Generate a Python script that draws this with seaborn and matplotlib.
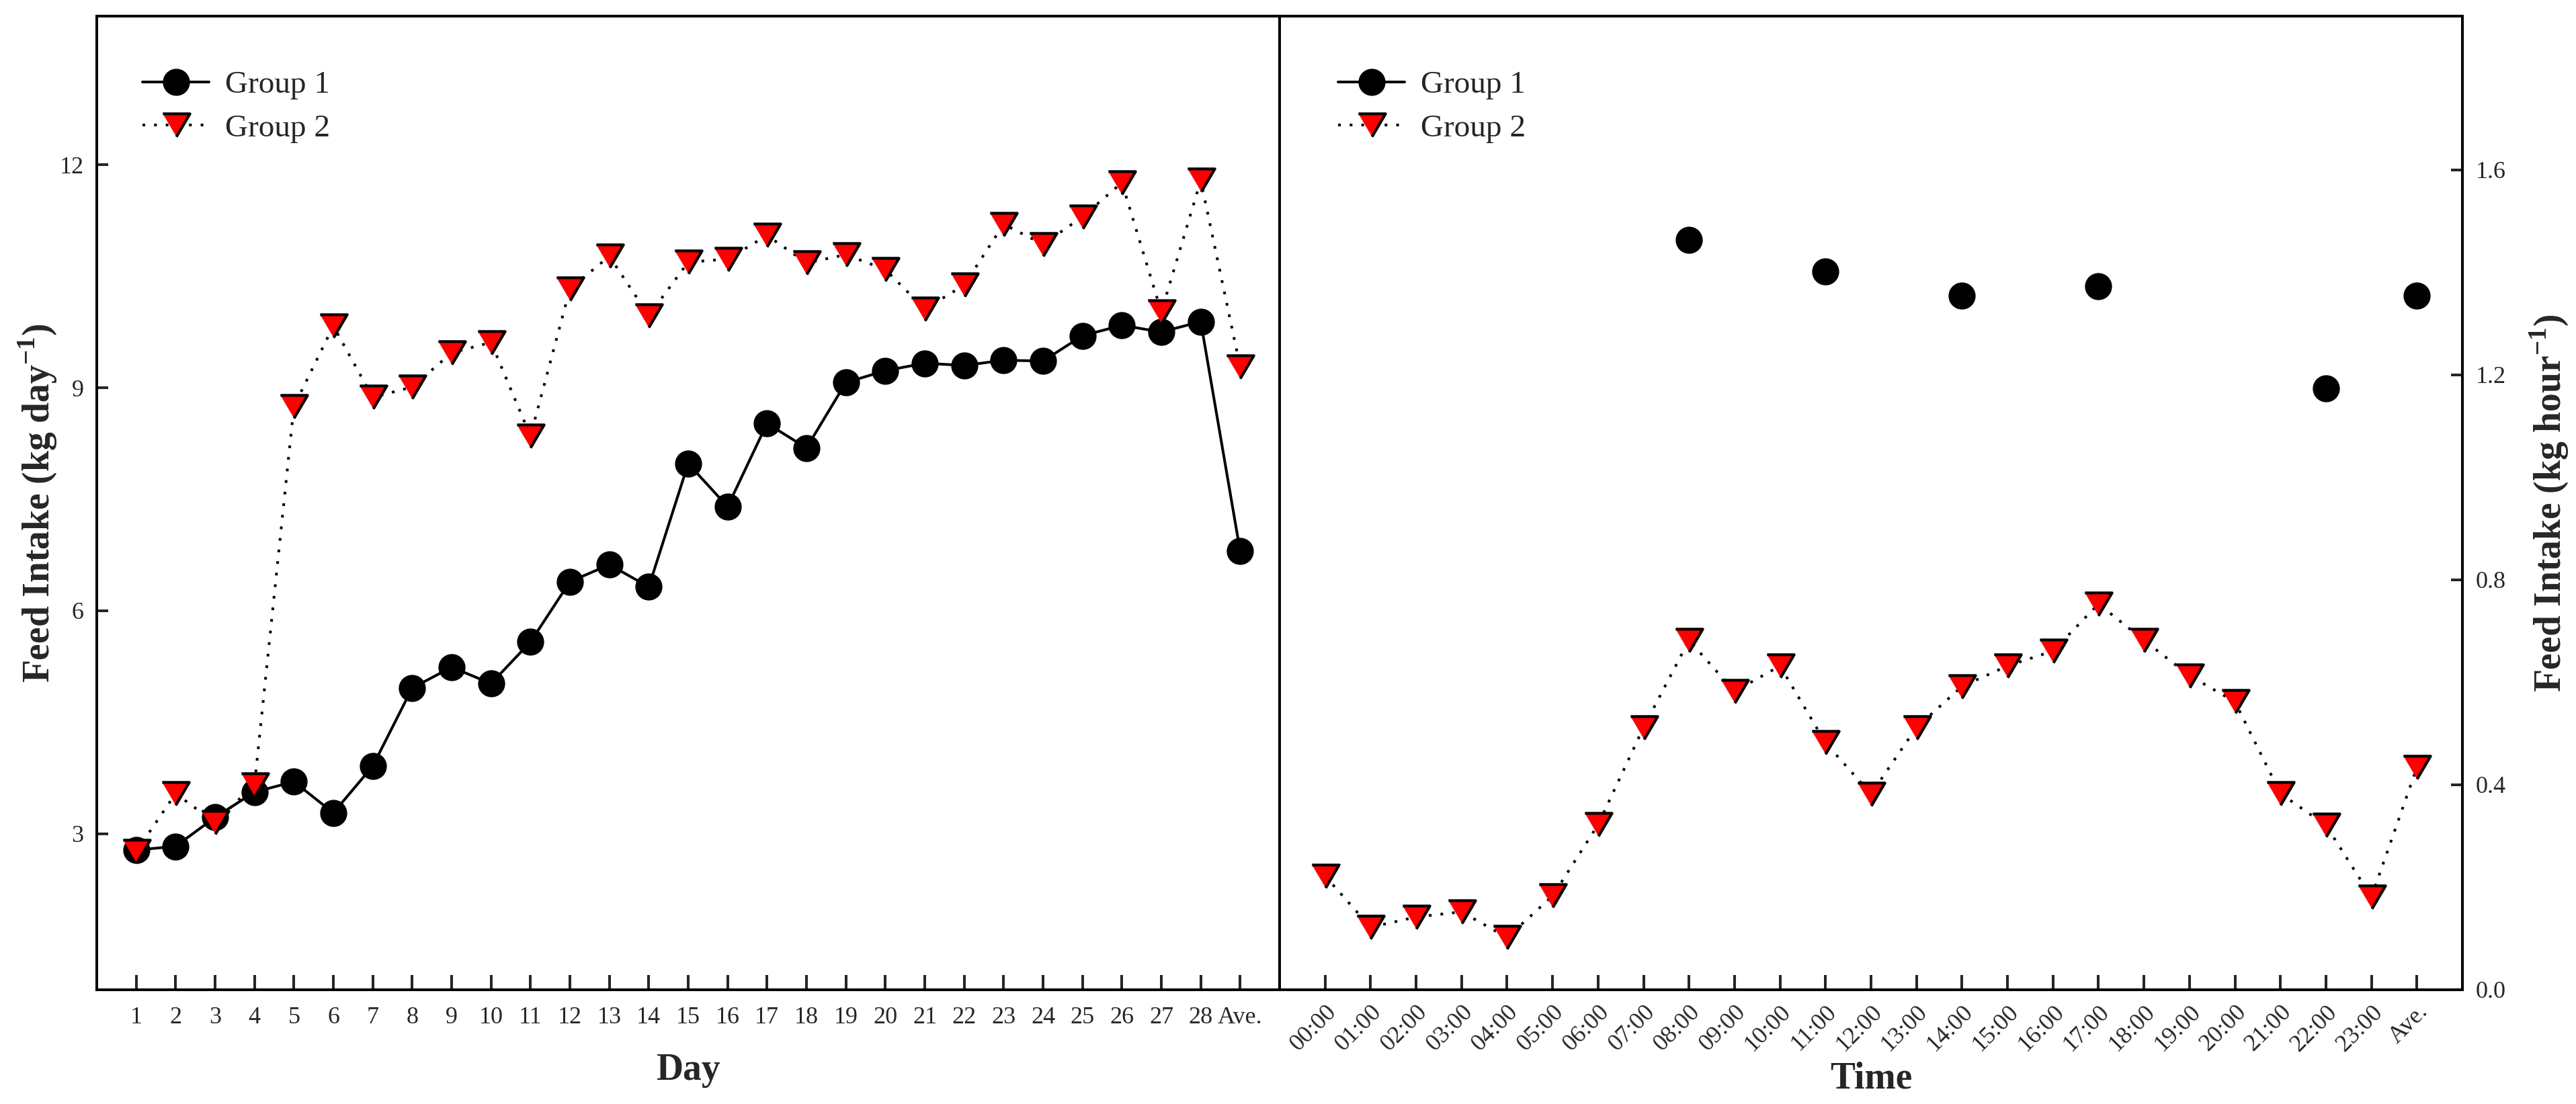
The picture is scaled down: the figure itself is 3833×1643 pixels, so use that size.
import numpy as np
import matplotlib
matplotlib.use("Agg")
import matplotlib.pyplot as plt
import seaborn as sns

# ---- data ----
day_labels = [str(i) for i in range(1, 29)] + ["Ave."]
day_pos = list(range(1, 30))
group1_day = [2.78, 2.83, 3.22, 3.56, 3.70, 3.28, 3.91, 4.96, 5.24, 5.02,
              5.58, 6.39, 6.62, 6.32, 7.98, 7.40, 8.52, 8.19, 9.07, 9.23,
              9.33, 9.30, 9.37, 9.36, 9.70, 9.84, 9.75, 9.89, 6.80]
group2_day = [2.76, 3.54, 3.15, 3.66, 8.75, 9.83, 8.87, 9.01, 9.47, 9.61,
              8.35, 10.33, 10.77, 9.97, 10.69, 10.73, 11.05, 10.68, 10.79, 10.59,
              10.06, 10.38, 11.20, 10.93, 11.30, 11.76, 10.02, 11.79, 9.28]

hour_labels = ["%02d:00" % h for h in range(24)] + ["Ave."]
hour_pos = list(range(25))
nan = np.nan
group1_hour = [nan, nan, nan, nan, nan, nan, nan, nan, 1.463, nan,
               nan, 1.402, nan, nan, 1.354, nan, nan, 1.373, nan, nan,
               nan, nan, 1.174, nan, 1.354]
group2_hour = [0.222, 0.122, 0.142, 0.152, 0.102, 0.183, 0.322, 0.512, 0.682, 0.582,
               0.632, 0.482, 0.382, 0.512, 0.592, 0.632, 0.661, 0.753, 0.682, 0.613,
               0.562, 0.383, 0.321, 0.181, 0.434]

sns.set_style("ticks")
plt.rcParams["font.family"] = ["Liberation Serif", "DejaVu Serif"]
plt.rcParams["mathtext.fontset"] = "custom"
plt.rcParams["mathtext.rm"] = "Liberation Serif"
plt.rcParams["mathtext.bf"] = "Liberation Serif:bold"

fig = plt.figure(figsize=(38.33, 16.43), dpi=100)
ax1 = fig.add_axes([0.03757, 0.10347, 0.45917, 0.88192])
ax2 = fig.add_axes([0.49674, 0.10347, 0.45917, 0.88192])

tri = [(-1, 0.85), (1, 0.85), (0, -0.85)]
g1 = dict(color="black", marker="o", markersize=28, markeredgewidth=1,
          markerfacecolor="black", markeredgecolor="black",
          linewidth=2.9, linestyle="-")
g2 = dict(color="black", marker=tri, markersize=29, markeredgewidth=3,
          markerfacecolor="#ff0000", markeredgecolor="black",
          linewidth=2.9, linestyle=(0, (1, 3.3)))

sns.lineplot(x=day_pos, y=group1_day, ax=ax1, label="Group 1", zorder=3, **g1)
sns.lineplot(x=day_pos, y=group2_day, ax=ax1, label="Group 2", zorder=4, **g2)

g1_pts = dict(g1)
g1_pts["linestyle"] = "none"
sns.lineplot(x=hour_pos, y=group1_hour, ax=ax2, zorder=3, **g1_pts)
sns.lineplot(x=hour_pos, y=group2_hour, ax=ax2, zorder=4, **g2)

for ax in (ax1, ax2):
    for sp in ax.spines.values():
        sp.set_visible(True)
        sp.set_linewidth(2.9)
        sp.set_color("black")
    ax.tick_params(axis="x", direction="in", length=16, width=2.9,
                   labelsize=26, pad=18, top=False)
    ax.tick_params(axis="y", direction="in", length=12, width=2.9,
                   labelsize=26, pad=14)
    ax.grid(False)

# left panel
ax1.set_xlim(0, 30)
ax1.set_ylim(0.9, 14.0)
ax1.set_xticks(day_pos, day_labels)
ax1.set_yticks([3, 6, 9, 12])
ax1.tick_params(axis="y", left=True, right=False)
ax1.set_xlabel("Day", fontsize=40, fontweight="bold", labelpad=26)
ax1.set_ylabel("Feed Intake (kg day$^{\\mathbf{-1}}$)", fontsize=40,
               fontweight="bold", labelpad=0)

# right panel
ax2.set_xlim(-1, 25)
ax2.set_ylim(0, 1.9)
ax2.set_xticks(hour_pos, hour_labels, rotation=45, ha="right",
               rotation_mode="anchor")
ax2.set_yticks([0.0, 0.4, 0.8, 1.2, 1.6], ["0.0", "0.4", "0.8", "1.2", "1.6"])
ax2.yaxis.tick_right()
ax2.tick_params(axis="y", left=False, right=True, labelleft=False, labelright=True)
ax2.tick_params(axis="x", pad=12)
ax2.yaxis.set_label_position("right")
ax2.set_xlabel("Time", fontsize=40, fontweight="bold", labelpad=6)
ax2.set_ylabel("Feed Intake (kg hour$^{\\mathbf{-1}}$)", fontsize=40,
               fontweight="bold", labelpad=24)

handles, labels = ax1.get_legend_handles_labels()
leg_kw = dict(frameon=False, fontsize=34, loc="upper left", borderaxespad=0,
              borderpad=0, handlelength=2.1, handletextpad=0.5,
              labelspacing=0.45, numpoints=1)
ax1.legend(handles, labels, bbox_to_anchor=(0.0386, 0.944), **leg_kw)
ax2.legend(handles, labels, bbox_to_anchor=(0.0494, 0.944), **leg_kw)

fig.savefig("out.png", dpi=100)
